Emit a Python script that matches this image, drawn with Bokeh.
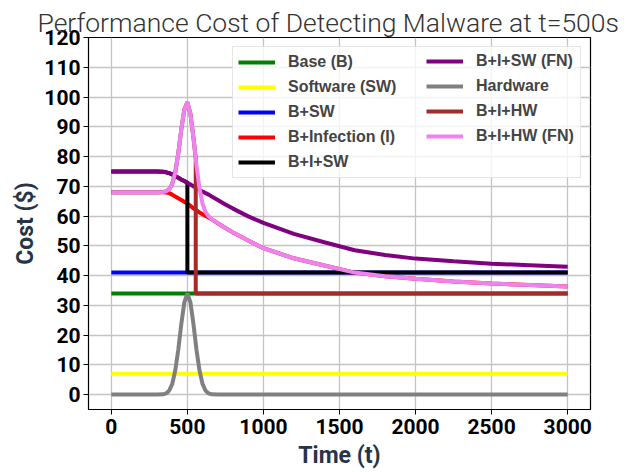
from bokeh.plotting import figure
from bokeh.models import Range1d, Legend, LegendItem, FixedTicker
from bokeh.embed import file_html
from bokeh.resources import INLINE

# Time grid (s)
t = [0, 100, 200, 300, 340, 360, 380, 400, 420, 440, 460, 480, 500, 520, 540,
     560, 580, 600, 620, 640, 660, 700, 750, 800, 900, 1000, 1200, 1400, 1600,
     1800, 2000, 2250, 2500, 2750, 3000]

base_cost = 34
software_cost = 7
b_sw_cost = 41

hardware = [0, 0, 0, 0, 0.1, 0.4, 1.3, 3.5, 8.0, 15.0, 23.7, 31.0, 34.0, 31.0, 23.7,
            15.0, 8.0, 3.5, 1.3, 0.4, 0.1, 0, 0, 0, 0, 0, 0, 0, 0,
            0, 0, 0, 0, 0, 0]

b_infection = [68, 68, 68, 68, 68.0, 67.9, 67.7, 67.2, 66.6, 66.0, 65.4, 64.8, 64.2, 63.4, 62.6,
               61.9, 61.2, 60.6, 60.0, 59.5, 58.9, 57.6, 56.0, 54.5, 51.8, 49.2, 45.8, 43.4, 41.0,
               39.8, 38.9, 38.0, 37.3, 36.8, 36.3]

b_i_hw_fn = [68, 68, 68, 68, 68.1, 68.3, 69.0, 70.7, 74.6, 81.0, 89.1, 95.8, 98.2, 94.4, 86.3,
             76.9, 69.2, 64.1, 61.3, 59.9, 59.0, 57.6, 56.0, 54.5, 51.8, 49.2, 45.8, 43.4, 41.0,
             39.8, 38.9, 38.0, 37.3, 36.8, 36.3]

b_i_sw_fn = [75, 75, 75, 75, 74.9, 74.7, 74.4, 74.0, 73.5, 72.9, 72.3, 71.8, 71.2, 70.6, 70.0,
             69.4, 68.8, 68.2, 67.7, 67.2, 66.6, 65.4, 63.9, 62.5, 59.9, 57.7, 54.0, 51.2, 48.5,
             46.9, 45.7, 44.8, 44.0, 43.5, 43.0]

# B+I+SW: follows B+I+SW(FN) until detection at t=500, then B+SW
t_b_i_sw = [0, 100, 200, 300, 340, 360, 380, 400, 420, 440, 460, 480, 500, 500, 3000]
b_i_sw = [75, 75, 75, 75, 74.9, 74.7, 74.4, 74.0, 73.5, 72.9, 72.3, 71.8, 71.2, 41, 41]

# B+I+HW: follows B+I+HW(FN) until detection at t=555, then Base
t_b_i_hw = [0, 100, 200, 300, 340, 360, 380, 400, 420, 440, 460, 480, 500, 520, 540, 555, 555, 3000]
b_i_hw = [68, 68, 68, 68, 68.1, 68.3, 69.0, 70.7, 74.6, 81.0, 89.1, 95.8, 98.2, 94.4, 86.3, 79.3, 34, 34]

x_ticks = [0, 500, 1000, 1500, 2000, 2500, 3000]
y_ticks = [0, 10, 20, 30, 40, 50, 60, 70, 80, 90, 100, 110, 120]

p = figure(width=620, height=472, output_backend="svg", toolbar_location=None,
           x_range=Range1d(-150, 3150), y_range=Range1d(-5, 120),
           min_border_left=88, min_border_right=30, min_border_top=37, min_border_bottom=63)

p.title.text = "Performance Cost of Detecting Malware at t=500s"
p.title.text_font = "Roboto Light"
p.title.text_font_style = "normal"
p.title.text_font_size = "26.5px"
p.title.text_color = "#333333"
p.title.align = "left"
p.title.standoff = 0
p.title.offset = -51

p.outline_line_color = "black"
p.outline_line_width = 1.2
p.background_fill_color = "white"
p.border_fill_color = "white"

for ax in (p.xaxis, p.yaxis):
    ax.major_label_text_font = "Roboto"
    ax.major_label_text_font_style = "bold"
    ax.major_label_text_font_size = "21px"
    ax.major_label_text_color = "black"
    ax.major_label_standoff = 3
    ax.axis_label_text_font = "Roboto"
    ax.axis_label_text_font_style = "bold"
    ax.axis_label_text_font_size = "23px"
    ax.axis_label_text_color = "#253447"
    ax.axis_label_standoff = 2
    ax.major_tick_out = 5
    ax.major_tick_in = 0
    ax.minor_tick_out = 0
    ax.minor_tick_in = 0
    ax.axis_line_color = "black"
    ax.major_tick_line_color = "black"

p.xaxis.ticker = FixedTicker(ticks=x_ticks)
p.yaxis.ticker = FixedTicker(ticks=y_ticks)
p.xaxis.axis_label = "Time (t)"
p.yaxis.axis_label = "Cost ($)"
p.xaxis.major_label_standoff = 4
p.xaxis.axis_label_standoff = 5

p.grid.grid_line_color = "#c4c4c4"
p.grid.grid_line_width = 1.3

lw = 4
r_base = p.line([t[0], t[-1]], [base_cost, base_cost], line_color="green", line_width=lw)
r_sw = p.line([t[0], t[-1]], [software_cost, software_cost], line_color="yellow", line_width=lw)
r_bsw = p.line([t[0], t[-1]], [b_sw_cost, b_sw_cost], line_color="blue", line_width=lw)
r_bi = p.line(t, b_infection, line_color="red", line_width=lw)
r_bisw = p.line(t_b_i_sw, b_i_sw, line_color="black", line_width=lw)
r_biswfn = p.line(t, b_i_sw_fn, line_color="purple", line_width=lw)
r_hw = p.line(t, hardware, line_color="gray", line_width=lw)
r_bihw = p.line(t_b_i_hw, b_i_hw, line_color="brown", line_width=lw)
r_bihwfn = p.line(t, b_i_hw_fn, line_color="violet", line_width=lw)

items_col1 = [
    LegendItem(label="Base (B)", renderers=[r_base]),
    LegendItem(label="Software (SW)", renderers=[r_sw]),
    LegendItem(label="B+SW", renderers=[r_bsw]),
    LegendItem(label="B+Infection (I)", renderers=[r_bi]),
    LegendItem(label="B+I+SW", renderers=[r_bisw]),
]
items_col2 = [
    LegendItem(label="B+I+SW (FN)", renderers=[r_biswfn]),
    LegendItem(label="Hardware", renderers=[r_hw]),
    LegendItem(label="B+I+HW", renderers=[r_bihw]),
    LegendItem(label="B+I+HW (FN)", renderers=[r_bihwfn]),
]


def style_legend(lg):
    lg.label_text_font = "Liberation Sans"
    lg.label_text_font_style = "bold"
    lg.label_text_font_size = "16px"
    lg.glyph_width = 37
    lg.glyph_height = 20
    lg.label_height = 20
    lg.label_standoff = 13
    lg.spacing = 5
    lg.padding = 5


legend1 = Legend(items=items_col1, location="top_right")
style_legend(legend1)
legend1.margin = 9
legend1.label_width = 287
legend1.background_fill_alpha = 0.8
legend1.border_line_color = "#cccccc"
legend1.border_line_width = 1

legend2 = Legend(items=items_col2, location="top_right")
style_legend(legend2)
legend2.margin = 14
legend2.label_width = 100
legend2.background_fill_alpha = 0.0
legend2.border_line_color = None

p.add_layout(legend1, "center")
p.add_layout(legend2, "center")

open("out.html", "w").write(file_html(p, INLINE))
